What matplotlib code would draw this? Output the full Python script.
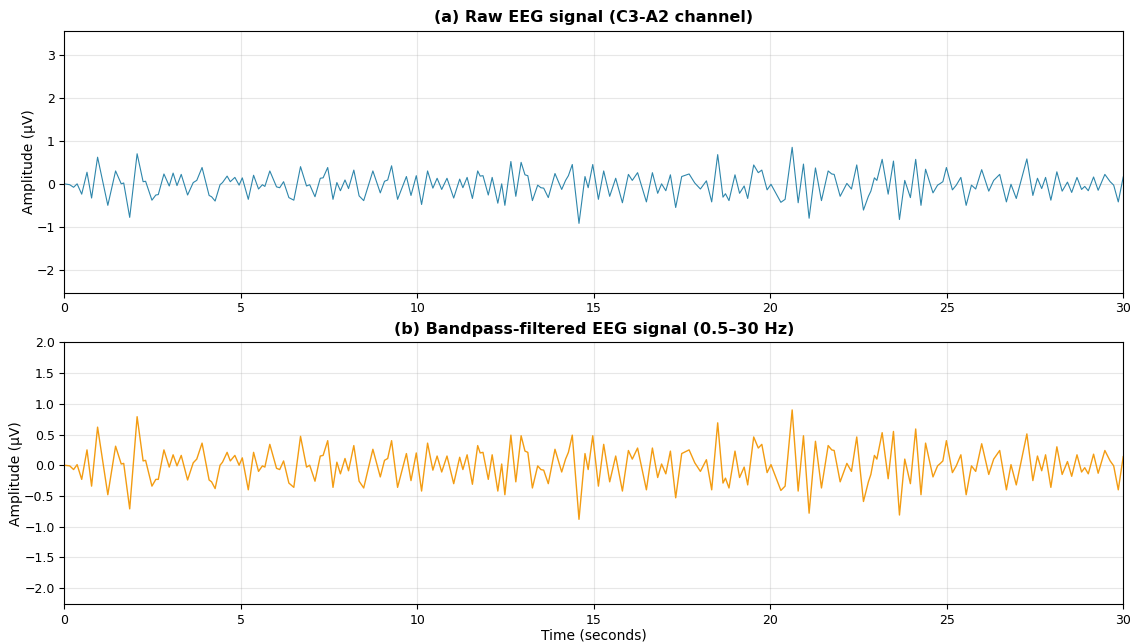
import matplotlib
matplotlib.use("Agg")
import matplotlib.pyplot as plt

# Turning points of the EEG trace (seconds, microvolts)
time_s = [
    0.00, 0.15, 0.26, 0.36, 0.49, 0.64, 0.77, 0.94, 1.23, 1.45,
    1.61, 1.68, 1.85, 2.06, 2.23, 2.30, 2.48, 2.59, 2.66, 2.82,
    2.97, 3.08, 3.19, 3.31, 3.49, 3.65, 3.75, 3.90, 4.10, 4.17,
    4.27, 4.41, 4.48, 4.61, 4.70, 4.83, 4.95, 5.04, 5.21, 5.36,
    5.50, 5.61, 5.68, 5.82, 6.01, 6.10, 6.21, 6.36, 6.50, 6.69,
    6.86, 6.95, 7.10, 7.25, 7.33, 7.46, 7.61, 7.72, 7.82, 7.95,
    8.05, 8.20, 8.35, 8.48, 8.74, 8.95, 9.07, 9.16, 9.27, 9.44,
    9.69, 9.82, 9.97, 10.12, 10.29, 10.44, 10.56, 10.69, 10.84, 11.03,
    11.20, 11.29, 11.41, 11.56, 11.71, 11.78, 11.86, 12.01, 12.12, 12.28,
    12.39, 12.48, 12.65, 12.79, 12.94, 13.05, 13.13, 13.26, 13.41, 13.50,
    13.58, 13.71, 13.90, 14.09, 14.20, 14.28, 14.39, 14.58, 14.75, 14.84,
    14.97, 15.13, 15.28, 15.45, 15.62, 15.81, 15.98, 16.09, 16.24, 16.49,
    16.66, 16.81, 16.92, 17.04, 17.17, 17.32, 17.49, 17.56, 17.70, 17.86,
    18.02, 18.19, 18.34, 18.51, 18.66, 18.73, 18.83, 19.00, 19.13, 19.26,
    19.36, 19.53, 19.66, 19.76, 19.91, 20.02, 20.30, 20.42, 20.62, 20.79,
    20.94, 21.10, 21.28, 21.45, 21.64, 21.74, 21.81, 21.98, 22.17, 22.30,
    22.45, 22.64, 22.78, 22.85, 22.95, 23.02, 23.17, 23.34, 23.49, 23.66,
    23.81, 23.97, 24.12, 24.27, 24.40, 24.61, 24.74, 24.80, 24.89, 24.99,
    25.16, 25.27, 25.40, 25.55, 25.70, 25.82, 25.99, 26.19, 26.33, 26.50,
    26.69, 26.82, 26.97, 27.27, 27.44, 27.57, 27.69, 27.80, 27.95, 28.12,
    28.27, 28.42, 28.54, 28.69, 28.82, 28.91, 29.01, 29.16, 29.29, 29.48,
    29.63, 29.73, 29.86, 30.00,
]

filtered_uv = [
    0.00, -0.01, -0.07, 0.01, -0.23, 0.25, -0.34, 0.62, -0.48, 0.31,
    0.02, 0.03, -0.71, 0.79, 0.07, 0.08, -0.34, -0.23, -0.23, 0.25,
    -0.03, 0.17, -0.01, 0.16, -0.24, 0.04, 0.10, 0.36, -0.24, -0.27,
    -0.38, 0.00, 0.05, 0.21, 0.07, 0.16, 0.00, 0.12, -0.40, 0.21,
    -0.10, -0.01, -0.03, 0.34, -0.05, -0.07, 0.07, -0.29, -0.36, 0.47,
    -0.03, 0.00, -0.26, 0.15, 0.16, 0.40, -0.36, 0.05, -0.14, 0.11,
    -0.09, 0.32, -0.26, -0.37, 0.26, -0.19, 0.08, 0.11, 0.40, -0.36,
    0.19, -0.25, 0.20, -0.42, 0.36, -0.08, 0.15, -0.11, 0.15, -0.30,
    0.13, -0.07, 0.17, -0.31, 0.32, 0.20, 0.21, -0.23, 0.17, -0.42,
    0.02, -0.48, 0.49, -0.27, 0.48, 0.23, 0.21, -0.37, -0.01, -0.07,
    -0.08, -0.30, 0.26, -0.11, 0.10, 0.21, 0.49, -0.88, 0.19, -0.07,
    0.48, -0.34, 0.34, -0.27, 0.15, -0.42, 0.24, 0.10, 0.28, -0.40,
    0.28, -0.20, 0.02, -0.14, 0.23, -0.53, 0.19, 0.21, 0.25, 0.04,
    -0.10, 0.09, -0.40, 0.69, -0.29, -0.21, -0.37, 0.23, -0.20, -0.03,
    -0.32, 0.46, 0.28, 0.34, -0.12, 0.01, -0.41, -0.34, 0.90, -0.42,
    0.48, -0.78, 0.39, -0.37, 0.32, 0.25, 0.24, -0.27, 0.03, -0.10,
    0.46, -0.59, -0.27, -0.15, 0.16, 0.10, 0.53, -0.22, 0.55, -0.81,
    0.10, -0.30, 0.59, -0.48, 0.36, -0.19, -0.01, 0.02, 0.07, 0.40,
    -0.12, -0.01, 0.17, -0.48, -0.01, -0.10, 0.35, -0.15, 0.10, 0.24,
    -0.40, 0.01, -0.32, 0.51, -0.25, 0.15, -0.09, 0.17, -0.36, 0.30,
    -0.15, 0.06, -0.18, 0.17, -0.11, -0.04, -0.14, 0.18, -0.13, 0.24,
    0.07, -0.01, -0.40, 0.14,
]

# Raw trace (C3-A2) before filtering; differs only slightly from the filtered one
raw_uv = [
    0.00, -0.02, -0.08, 0.00, -0.24, 0.27, -0.33, 0.62, -0.50, 0.30,
    0.00, 0.02, -0.78, 0.70, 0.05, 0.06, -0.38, -0.26, -0.25, 0.23,
    -0.05, 0.25, -0.04, 0.22, -0.26, 0.03, 0.08, 0.38, -0.27, -0.30,
    -0.40, -0.02, 0.03, 0.18, 0.05, 0.15, -0.03, 0.14, -0.36, 0.20,
    -0.12, -0.02, -0.06, 0.30, -0.07, -0.09, 0.05, -0.32, -0.38, 0.40,
    -0.05, -0.02, -0.30, 0.13, 0.14, 0.38, -0.36, 0.03, -0.16, 0.09,
    -0.11, 0.32, -0.28, -0.39, 0.30, -0.21, 0.06, 0.09, 0.42, -0.36,
    0.17, -0.27, 0.19, -0.48, 0.30, -0.10, 0.13, -0.13, 0.13, -0.33,
    0.11, -0.09, 0.15, -0.34, 0.30, 0.18, 0.19, -0.26, 0.15, -0.45,
    0.00, -0.50, 0.52, -0.29, 0.50, 0.21, 0.19, -0.39, -0.03, -0.09,
    -0.10, -0.32, 0.24, -0.13, 0.08, 0.19, 0.45, -0.92, 0.17, -0.09,
    0.45, -0.36, 0.30, -0.29, 0.13, -0.44, 0.22, 0.08, 0.26, -0.42,
    0.26, -0.22, 0.00, -0.16, 0.21, -0.55, 0.17, 0.19, 0.23, 0.02,
    -0.12, 0.07, -0.42, 0.68, -0.31, -0.23, -0.39, 0.21, -0.22, -0.05,
    -0.34, 0.44, 0.26, 0.32, -0.14, -0.01, -0.43, -0.36, 0.85, -0.44,
    0.46, -0.80, 0.37, -0.39, 0.30, 0.23, 0.22, -0.29, 0.01, -0.12,
    0.44, -0.61, -0.29, -0.17, 0.14, 0.08, 0.57, -0.24, 0.53, -0.83,
    0.08, -0.32, 0.57, -0.50, 0.34, -0.21, -0.03, 0.00, 0.05, 0.38,
    -0.14, -0.03, 0.15, -0.50, -0.03, -0.12, 0.33, -0.17, 0.08, 0.22,
    -0.42, -0.01, -0.34, 0.58, -0.27, 0.13, -0.11, 0.15, -0.38, 0.28,
    -0.17, 0.04, -0.20, 0.15, -0.13, -0.06, -0.16, 0.16, -0.15, 0.22,
    0.05, -0.03, -0.42, 0.16,
]

assert len(time_s) == len(filtered_uv) == len(raw_uv)

raw_color = "#2E86AB"
filt_color = "#F39C12"

plt.rcParams["xtick.labelsize"] = 9
plt.rcParams["ytick.labelsize"] = 9

fig, (ax1, ax2) = plt.subplots(2, 1, figsize=(11.3, 6.42), dpi=100)
fig.subplots_adjust(left=0.057, right=0.994, top=0.952, bottom=0.059, hspace=0.19)

ax1.plot(time_s, raw_uv, color=raw_color, linewidth=0.8, solid_joinstyle="round")
ax1.set_xlim(0, 30)
ax1.set_ylim(-2.53, 3.56)
ax1.set_title("(a) Raw EEG signal (C3-A2 channel)", fontsize=11.5, fontweight="bold")
ax1.set_ylabel("Amplitude (μV)", fontsize=10, labelpad=0.5)
ax1.grid(True, alpha=0.3)

ax2.plot(time_s, filtered_uv, color=filt_color, linewidth=1.0, solid_joinstyle="round")
ax2.set_xlim(0, 30)
ax2.set_ylim(-2.26, 2.0)
ax2.set_yticks([-2.0, -1.5, -1.0, -0.5, 0.0, 0.5, 1.0, 1.5, 2.0])
ax2.set_title("(b) Bandpass-filtered EEG signal (0.5–30 Hz)", fontsize=11.5, fontweight="bold")
ax2.set_ylabel("Amplitude (μV)", fontsize=10, labelpad=0.5)
ax2.set_xlabel("Time (seconds)", fontsize=10, labelpad=1)
ax2.grid(True, alpha=0.3)

fig.savefig("out.png", dpi=100)
